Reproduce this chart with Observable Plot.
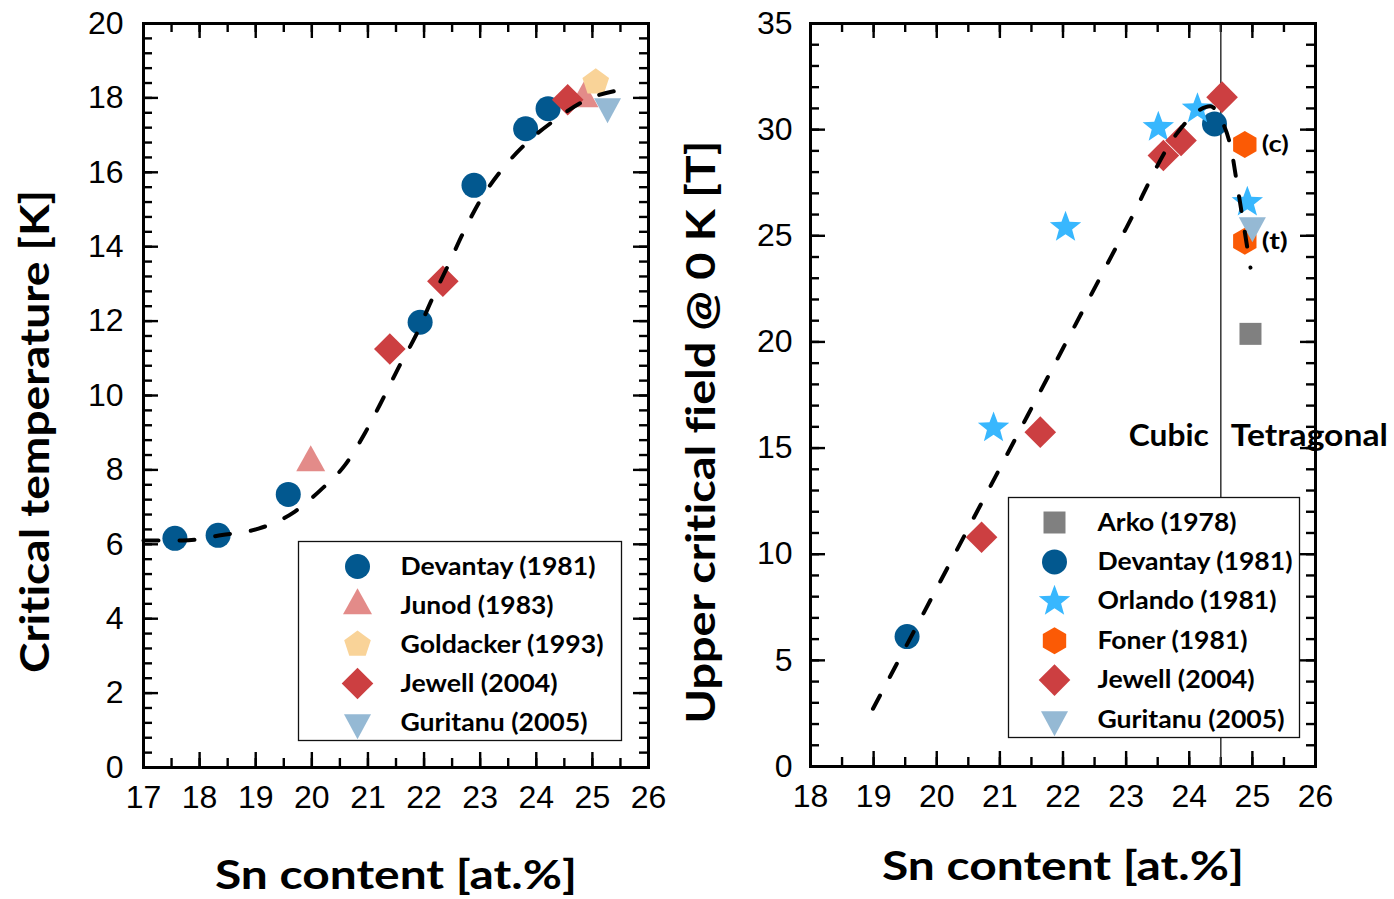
<!DOCTYPE html>
<html>
<head>
<meta charset="utf-8">
<script src="https://cdn.jsdelivr.net/npm/d3@7"></script>
<script src="https://cdn.jsdelivr.net/npm/@observablehq/plot@0.6"></script>
<style>
  html, body { margin: 0; padding: 0; background: #fff; overflow: hidden; }
  #wrap { position: relative; width: 1394px; height: 899px; }
  #wrap svg { position: absolute; top: 0; font-variant-ligatures: none; }
</style>
</head>
<body>
<div id="wrap"></div>
<script>
// ---- Critical temperature vs Sn content ----
const devantayTcX  = [17.56, 18.33, 19.58, 21.93, 22.89, 23.81, 24.21];
const devantayTcY  = [6.16, 6.24, 7.34, 11.97, 15.65, 17.17, 17.71];
const junodTcX     = [19.98, 24.85];
const junodTcY     = [8.2, 17.98];
const goldackerTcX = [25.06];
const goldackerTcY = [18.42];
const jewellTcX    = [21.39, 22.335, 24.56];
const jewellTcY    = [11.25, 13.07, 17.95];
const guritanuTcX  = [25.27];
const guritanuTcY  = [17.77];
// guide-to-the-eye curve
const tcFitX = [17.0, 17.7, 18.4, 19.05, 19.65, 20.15, 20.6, 20.95, 21.28, 21.58, 21.85, 22.13, 22.42, 22.7, 23.0, 23.36, 23.8, 24.3, 24.9, 25.68];
const tcFitY = [6.10, 6.10, 6.25, 6.42, 6.83, 7.45, 8.15, 9.0, 9.95, 10.85, 11.6, 12.55, 13.47, 14.38, 15.24, 16.02, 16.75, 17.37, 17.95, 18.25];

// ---- Upper critical field at 0 K vs Sn content ----
const arkoHcX     = [24.97];
const arkoHcY     = [20.38];
const devantayHcX = [19.53, 24.40];
const devantayHcY = [6.12, 30.27];
const orlandoHcX  = [20.90, 22.04, 23.51, 24.13, 24.92];
const orlandoHcY  = [15.95, 25.40, 30.11, 30.98, 26.58];
const fonerHcX    = [24.88, 24.88];
const fonerHcY    = [29.30, 24.74];
const fonerTag    = ["(c)", "(t)"];
const jewellHcX   = [20.71, 21.64, 23.59, 23.87, 24.52];
const jewellHcY   = [10.80, 15.75, 28.78, 29.49, 31.53];
const guritanuHcX = [25.0];
const guritanuHcY = [25.48];
const hcFitX = [18.99, 20.0, 21.0, 22.0, 23.0, 23.8, 24.15, 24.33, 24.52, 24.67, 24.77, 24.97];
const hcFitY = [2.72, 8.4, 14.05, 19.7, 25.35, 29.8, 30.9, 31.1, 30.4, 29.0, 27.2, 23.5];
const phaseBoundary = 24.5;
const phaseLabels = ["Cubic", "Tetragonal"];

// ---- axis ticks and titles ----
const tcTicksX = [17, 18, 19, 20, 21, 22, 23, 24, 25, 26];
const tcTicksY = [0, 2, 4, 6, 8, 10, 12, 14, 16, 18, 20];
const hcTicksX = [18, 19, 20, 21, 22, 23, 24, 25, 26];
const hcTicksY = [0, 5, 10, 15, 20, 25, 30, 35];
const xTitle = "Sn content [at.%]";
const tcTitle = "Critical temperature [K]";
const hcTitle = "Upper critical field @ 0 K [T]";

// ---- marker shapes ----
function polygonSymbol(pts) {
  return {
    draw(ctx, size) {
      const k = Math.sqrt(size / Math.PI) / 10;
      pts.forEach(([x, y], i) => (i ? ctx.lineTo(x * k, y * k) : ctx.moveTo(x * k, y * k)));
      ctx.closePath();
    }
  };
}
const regular = (n, R) => d3.range(n).map(i => {
  const a = -Math.PI / 2 + (2 * Math.PI * i) / n;
  return [R * Math.cos(a), R * Math.sin(a)];
});
const circleSym = {
  draw(ctx, size) {
    const r = (12.5 * Math.sqrt(size / Math.PI)) / 10;
    ctx.moveTo(r, 0);
    ctx.arc(0, 0, r, 0, 2 * Math.PI);
    ctx.closePath();
  }
};
const diamondSym  = polygonSymbol([[0, -15.8], [15.8, 0], [0, 15.8], [-15.8, 0]]);
const triUpSym    = polygonSymbol([[0, -17.3], [14.5, 8.7], [-14.5, 8.7]]);
const triDownSym  = polygonSymbol([[0, 16.7], [13.5, -8.3], [-13.5, -8.3]]);
const pentagonSym = polygonSymbol(regular(5, 14));
const hexagonSym  = polygonSymbol(regular(6, 13.5));
const squareSym   = polygonSymbol([[-11, -11], [11, -11], [11, 11], [-11, 11]]);
const starSym     = polygonSymbol(d3.range(10).map(i => {
  const R = i % 2 ? 16.5 * 0.42 : 16.5;
  const a = -Math.PI / 2 + (Math.PI * i) / 5;
  return [R * Math.cos(a), R * Math.sin(a)];
}));

const rows = (xs, ys) => xs.map((x, i) => ({x, y: ys[i]}));

const tcSeries = [
  {name: "Devantay (1981)",  symbol: circleSym,   color: "#02588F", data: rows(devantayTcX, devantayTcY)},
  {name: "Junod (1983)",     symbol: triUpSym,    color: "#E38B89", data: rows(junodTcX, junodTcY)},
  {name: "Goldacker (1993)", symbol: pentagonSym, color: "#F9D398", data: rows(goldackerTcX, goldackerTcY)},
  {name: "Jewell (2004)",    symbol: diamondSym,  color: "#CC3F41", data: rows(jewellTcX, jewellTcY)},
  {name: "Guritanu (2005)",  symbol: triDownSym,  color: "#95B9D4", data: rows(guritanuTcX, guritanuTcY)}
];
const hcSeries = [
  {name: "Arko (1978)",      symbol: squareSym,   color: "#808080", data: rows(arkoHcX, arkoHcY)},
  {name: "Devantay (1981)",  symbol: circleSym,   color: "#02588F", data: rows(devantayHcX, devantayHcY)},
  {name: "Orlando (1981)",   symbol: starSym,     color: "#38B7FE", data: rows(orlandoHcX, orlandoHcY)},
  {name: "Foner (1981)",     symbol: hexagonSym,  color: "#FB5A05", data: rows(fonerHcX, fonerHcY)},
  {name: "Jewell (2004)",    symbol: diamondSym,  color: "#CC3F41", data: rows(jewellHcX, jewellHcY)},
  {name: "Guritanu (2005)",  symbol: triDownSym,  color: "#95B9D4", data: rows(guritanuHcX, guritanuHcY)}
];

const boldFont = {fontFamily: "Lato, 'Open Sans', sans-serif", fontWeight: 700, fill: "black"};
const tickFont = {fontFamily: "'Liberation Sans', Arial, sans-serif", fontSize: 32, fill: "black"};

// inward ticks on all four sides of the frame
function frameTicks(xMajor, xMinor, yMajor, yMinor, fw, fh) {
  const major = 15, minor = 9;
  const st = {stroke: "black", strokeWidth: 2.4};
  return [
    Plot.tickX(xMinor, {...st, insetTop: fh - minor}),
    Plot.tickX(xMinor, {...st, insetBottom: fh - minor}),
    Plot.tickX(xMajor, {...st, insetTop: fh - major}),
    Plot.tickX(xMajor, {...st, insetBottom: fh - major}),
    Plot.tickY(yMinor, {...st, insetRight: fw - minor}),
    Plot.tickY(yMinor, {...st, insetLeft: fw - minor}),
    Plot.tickY(yMajor, {...st, insetRight: fw - major}),
    Plot.tickY(yMajor, {...st, insetLeft: fw - major})
  ];
}

function seriesDots(series) {
  return series.map(s => Plot.dot(s.data, {x: "x", y: "y", r: 10, symbol: s.symbol, fill: s.color}));
}

function legend(series, {box, symbolDx, textDx, rowDy, rowStep}) {
  const marks = [Plot.frame({fill: "white", stroke: "#111", strokeWidth: 1.3, ...box})];
  series.forEach((s, i) => {
    marks.push(Plot.dot([s], {frameAnchor: "top-left", dx: symbolDx, dy: rowDy + i * rowStep, r: 10, symbol: s.symbol, fill: s.color}));
    marks.push(Plot.text([s], {frameAnchor: "top-left", dx: textDx, dy: rowDy + i * rowStep, text: d => d.name, textAnchor: "start", lineAnchor: "middle", fontSize: 25, ...boldFont}));
  });
  return marks;
}

const fitLine = (xs, ys) => Plot.line(rows(xs, ys), {
  x: "x", y: "y", curve: "monotone-x", stroke: "black", strokeWidth: 4, strokeDasharray: "15,21"
});

const W = 697, H = 899;

// Left panel: Tc
const tcPlot = Plot.plot({
  width: W, height: H,
  marginLeft: 143, marginRight: 49, marginTop: 23, marginBottom: 132,
  style: {fontFamily: "'Liberation Sans', Arial, sans-serif", fontSize: "32px", color: "black", background: "transparent"},
  x: {domain: [17, 26], label: null},
  y: {domain: [0, 20], label: null},
  marks: [
    ...frameTicks(tcTicksX, d3.range(17, 26.001, 0.5), tcTicksY, d3.range(0, 20.001, 0.4), 505, 744),
    Plot.axisX(tcTicksX, {anchor: "bottom", tickSize: 0, tickPadding: 18, label: null, ...tickFont}),
    Plot.axisY(tcTicksY, {anchor: "left", tickSize: 0, tickPadding: 20, label: null, ...tickFont}),
    ...seriesDots(tcSeries),
    fitLine(tcFitX, tcFitY),
    ...legend(tcSeries, {box: {insetLeft: 155, insetTop: 518, insetRight: 27, insetBottom: 27}, symbolDx: 214, textDx: 257, rowDy: 543, rowStep: 39}),
    Plot.text([xTitle], {frameAnchor: "bottom", dy: 121, textAnchor: "middle", lineAnchor: "bottom", text: d => d, fontSize: 40, ...boldFont}),
    Plot.text([tcTitle], {frameAnchor: "left", dx: -95, dy: 36, rotate: -90, textAnchor: "middle", lineAnchor: "bottom", text: d => d, fontSize: 40, ...boldFont}),
    Plot.frame({stroke: "black", strokeWidth: 3})
  ]
});

// Right panel: Hc2(0)
const hcPlot = Plot.plot({
  width: W, height: H,
  marginLeft: 113, marginRight: 79, marginTop: 23, marginBottom: 133,
  style: {fontFamily: "'Liberation Sans', Arial, sans-serif", fontSize: "32px", color: "black", background: "transparent", overflow: "visible"},
  x: {domain: [18, 26], label: null},
  y: {domain: [0, 35], label: null},
  marks: [
    ...frameTicks(hcTicksX, d3.range(18, 26.001, 0.5), hcTicksY, d3.range(0, 35.001, 1), 505, 743),
    Plot.axisX(hcTicksX, {anchor: "bottom", tickSize: 0, tickPadding: 18, label: null, ...tickFont}),
    Plot.axisY(hcTicksY, {anchor: "left", tickSize: 0, tickPadding: 18, label: null, ...tickFont}),
    Plot.ruleX([phaseBoundary], {stroke: "#333", strokeWidth: 1.5}),
    ...seriesDots(hcSeries),
    Plot.text(rows(fonerHcX, fonerHcY).map((d, i) => ({...d, tag: fonerTag[i]})), {x: "x", y: "y", text: "tag", dx: 17, textAnchor: "start", lineAnchor: "middle", fontSize: 23, ...boldFont}),
    fitLine(hcFitX, hcFitY),
    ...legend(hcSeries, {box: {insetLeft: 198, insetTop: 474, insetRight: 16, insetBottom: 29}, symbolDx: 244, textDx: 287, rowDy: 499, rowStep: 39.4}),
    Plot.text([phaseLabels[0]], {x: () => phaseBoundary, frameAnchor: "top", dy: 413, dx: -12, textAnchor: "end", lineAnchor: "middle", text: d => d, fontSize: 30, ...boldFont}),
    Plot.text([phaseLabels[1]], {x: () => phaseBoundary, frameAnchor: "top", dy: 413, dx: 10, textAnchor: "start", lineAnchor: "middle", text: d => d, fontSize: 30, ...boldFont}),
    Plot.text([xTitle], {frameAnchor: "bottom", dy: 113, textAnchor: "middle", lineAnchor: "bottom", text: d => d, fontSize: 40, ...boldFont}),
    Plot.text([hcTitle], {frameAnchor: "left", dx: -96, dy: 37, rotate: -90, textAnchor: "middle", lineAnchor: "bottom", text: d => d, fontSize: 40, ...boldFont}),
    Plot.frame({stroke: "black", strokeWidth: 3})
  ]
});

const wrap = document.getElementById("wrap");
tcPlot.style.left = "0px";
hcPlot.style.left = W + "px";
wrap.append(tcPlot, hcPlot);

// set text run lengths for the bold labels
const runLength = new Map([
  [xTitle, 362], [tcTitle, 483], [hcTitle, 583],
  ["Cubic", 80], ["Tetragonal", 157], ["(c)", 27], ["(t)", 26],
  ["Devantay (1981)", 195], ["Junod (1983)", 153], ["Goldacker (1993)", 203],
  ["Jewell (2004)", 157], ["Guritanu (2005)", 187], ["Arko (1978)", 139],
  ["Orlando (1981)", 179], ["Foner (1981)", 150]
]);
for (const t of wrap.querySelectorAll("text")) {
  const len = runLength.get(t.textContent);
  if (len) {
    t.setAttribute("textLength", len);
    t.setAttribute("lengthAdjust", "spacingAndGlyphs");
  }
}
</script>
</body>
</html>
